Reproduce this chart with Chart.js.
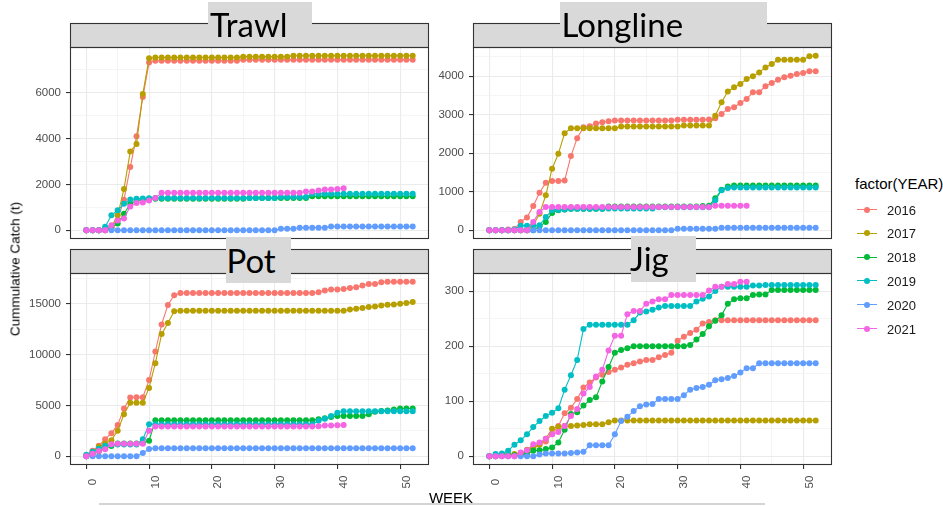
<!DOCTYPE html>
<html>
<head>
<meta charset="utf-8">
<title>Cummulative Catch by week</title>
<script src="https://cdn.jsdelivr.net/npm/chart.js@4.4.1/dist/chart.umd.min.js"></script>
<style>
  html, body { margin: 0; padding: 0; background: #ffffff; }
  body { position: relative; width: 943px; height: 506px; overflow: hidden;
         font-family: "Liberation Sans", Arial, sans-serif; }
  .panel { position: absolute; }
  .panel canvas { display: block; }
  .tagbg { position: absolute; background: #D9D9D9; }
  .tag { position: absolute; font-family: Lato, "Open Sans", sans-serif; font-size: 33px;
         line-height: normal; color: #000; white-space: nowrap; }
  .ytitle { position: absolute; left: 15px; top: 269px; font-size: 13.5px; color: #000;
            white-space: nowrap; transform: translate(-50%, -50%) rotate(-90deg); }
  .xtitle { position: absolute; left: 451px; top: 497px; font-size: 15px; color: #000;
            white-space: nowrap; transform: translate(-50%, -50%); }
  .legtitle { position: absolute; left: 855px; top: 183px; font-size: 15px; color: #000;
              white-space: nowrap; transform: translateY(-50%); }
  .keyline { position: absolute; left: 857px; width: 20px; height: 1px; }
  .keydot { position: absolute; left: 864px; width: 6px; height: 6px; border-radius: 50%; }
  .keytext { position: absolute; left: 887px; font-size: 13px; color: #1a1a1a;
             transform: translateY(-50%); white-space: nowrap; }
  .rule { position: absolute; left: 99px; top: 503px; width: 666px; height: 2px; background: #D4D4D4; }
</style>
</head>
<body>

<div class="panel" style="left:18px;top:20px"><canvas id="c-trawl" width="415" height="223"></canvas></div>
<div class="panel" style="left:421px;top:20px"><canvas id="c-longline" width="415" height="223"></canvas></div>
<div class="panel" style="left:18px;top:246px"><canvas id="c-pot" width="415" height="249"></canvas></div>
<div class="panel" style="left:421px;top:246px"><canvas id="c-jig" width="415" height="249"></canvas></div>

<div class="tagbg" style="left:208px;top:2px;width:104px;height:37px"></div>
<div class="tag" style="left:210px;top:4.4px">Trawl</div>
<div class="tagbg" style="left:560px;top:2px;width:207px;height:37px"></div>
<div class="tag" style="left:561.5px;top:4.1px">Longline</div>
<div class="tagbg" style="left:226px;top:237px;width:65px;height:46px"></div>
<div class="tag" style="left:226.5px;top:239.7px">Pot</div>
<div class="tagbg" style="left:631px;top:236px;width:65px;height:46px"></div>
<div class="tag" style="left:630px;top:238px">Jig</div>

<div class="ytitle">Cummulative Catch (t)</div>
<div class="xtitle">WEEK</div>
<div class="rule"></div>

<div class="legtitle">factor(YEAR)</div>
<div id="legend"></div>

<script>
// ---- weeks and years ----
const weeks = [0,1,2,3,4,5,6,7,8,9,10,11,12,13,14,15,16,17,18,19,20,21,22,23,24,25,26,
               27,28,29,30,31,32,33,34,35,36,37,38,39,40,41,42,43,44,45,46,47,48,49,50,51,52];
const weekGrid = [0,5,10,15,20,25,30,35,40,45,50];
const weekLabels = [0,10,20,30,40,50];
const years = ['2016','2017','2018','2019','2020','2021'];
const yearColors = ['#F8766D','#B79F00','#00BA38','#00BFC4','#619CFF','#F564E3'];

// ---- Trawl: cumulative catch (t) by week ----
const trawl2016 = [0,0,0,0,100,450,1330,2750,4090,5800,
  7300,7380,7380,7380,7380,7380,7380,7380,7380,7380,
  7380,7380,7380,7380,7380,7420,7420,7420,7420,7420,
  7420,7420,7420,7420,7420,7420,7420,7420,7420,7420,
  7420,7420,7420,7420,7420,7420,7420,7420,7420,7420,
  7420,7420,7420];
const trawl2017 = [0,0,0,0,150,650,1800,3425,3760,5930,
  7490,7520,7520,7520,7520,7520,7520,7520,7520,7520,
  7520,7520,7520,7520,7520,7560,7560,7560,7560,7560,
  7560,7560,7560,7600,7600,7600,7600,7600,7600,7600,
  7600,7600,7600,7600,7600,7600,7600,7600,7600,7600,
  7600,7600,7600];
const trawl2018 = [0,0,0,20,100,300,720,1150,1300,1330,
  1370,1370,1370,1370,1370,1370,1370,1370,1370,1370,
  1370,1370,1370,1370,1370,1370,1400,1400,1400,1400,
  1400,1400,1400,1400,1400,1400,1480,1480,1480,1480,
  1480,1480,1480,1480,1480,1480,1480,1480,1480,1480,
  1480,1480,1480];
const trawl2019 = [0,0,0,150,650,870,1150,1340,1375,1380,
  1390,1400,1400,1400,1400,1400,1400,1400,1400,1400,
  1400,1400,1400,1400,1400,1400,1400,1400,1400,1400,
  1400,1450,1450,1450,1450,1450,1590,1590,1590,1590,
  1590,1590,1590,1590,1590,1590,1590,1590,1590,1590,
  1590,1590,1590];
const trawl2020 = [0,0,0,0,0,0,0,0,0,0,
  0,0,0,0,0,0,0,0,0,0,
  0,0,0,0,0,0,0,0,0,0,
  0,70,70,70,115,115,115,115,115,160,
  160,160,160,160,160,160,160,160,160,160,
  160,160,160];
const trawl2021 = [0,0,0,0,220,430,510,1040,1190,1210,
  1300,1400,1635,1635,1635,1635,1635,1635,1635,1635,
  1635,1635,1635,1635,1635,1635,1635,1635,1635,1635,
  1635,1635,1635,1635,1635,1690,1690,1735,1780,1780,
  1800,1830];

// ---- Longline ----
const long2016 = [0,0,0,20,30,217,330,631,977,1235,
  1278,1278,1295,1926,2393,2678,2704,2772,2806,2832,
  2850,2850,2850,2850,2850,2850,2850,2850,2850,2850,
  2870,2870,2870,2870,2870,2877,2911,3022,3152,3195,
  3307,3411,3584,3584,3740,3826,3912,3973,4016,4059,
  4085,4128,4128];
const long2017 = [0,0,0,0,0,0,0,130,432,907,
  1598,1986,2522,2651,2651,2651,2651,2651,2651,2651,
  2651,2694,2694,2694,2694,2694,2694,2694,2694,2694,
  2694,2720,2720,2720,2720,2720,2977,3326,3602,3714,
  3800,3930,4000,4100,4230,4317,4430,4430,4430,4430,
  4430,4520,4533];
const long2018 = [0,0,0,0,0,0,0,0,100,217,
  450,520,540,560,560,560,560,560,560,620,
  620,620,620,620,620,620,620,620,620,620,
  620,620,620,620,630,640,830,1050,1140,1160,
  1160,1160,1160,1160,1160,1160,1160,1160,1160,1160,
  1160,1160,1160];
const long2019 = [0,0,0,0,20,120,120,125,130,345,
  518,535,540,560,560,560,560,560,560,565,
  565,565,565,565,565,565,565,600,600,600,
  600,600,600,600,600,600,780,1040,1100,1110,
  1110,1110,1110,1110,1110,1110,1110,1110,1110,1110,
  1110,1110,1110];
const long2020 = [0,0,0,0,0,0,0,0,0,0,
  0,0,0,0,0,0,0,0,0,0,
  0,0,0,0,0,0,0,0,0,0,
  40,40,40,40,40,40,40,65,65,65,
  65,65,65,65,65,65,65,65,65,65,
  65,65,65];
const long2021 = [0,0,0,0,0,0,0,217,476,605,
  605,605,605,605,605,605,605,605,605,605,
  605,605,605,605,605,605,605,605,605,605,
  605,605,605,605,605,605,635,635,635,635,
  635,635];

// ---- Pot ----
const pot2016 = [100,546,1030,1680,2270,3080,4700,5790,5800,5810,
  7490,10300,12960,14870,15830,16050,16050,16050,16050,16050,
  16050,16050,16050,16050,16050,16050,16050,16050,16050,16050,
  16050,16050,16050,16050,16050,16050,16050,16130,16290,16390,
  16390,16450,16550,16620,16780,16940,16940,17100,17160,17160,
  17160,17160,17160];
const pot2017 = [0,450,935,1260,1584,2500,4125,5260,5260,5260,
  6720,9150,12010,13110,14250,14300,14300,14300,14300,14300,
  14300,14300,14300,14300,14300,14300,14300,14300,14300,14300,
  14300,14300,14300,14300,14300,14300,14300,14300,14300,14300,
  14300,14300,14440,14500,14570,14670,14730,14830,14900,14930,
  15000,15060,15160];
const pot2018 = [0,200,500,800,1000,1266,1266,1266,1266,1300,
  1530,3535,3535,3535,3535,3535,3535,3535,3535,3535,
  3535,3535,3535,3535,3535,3535,3535,3535,3535,3535,
  3535,3535,3535,3535,3535,3535,3535,3630,3730,3860,
  3960,3960,3960,3960,3960,4120,4380,4440,4510,4600,
  4700,4700,4700];
const pot2019 = [160,450,730,1030,1130,1150,1150,1150,1150,1680,
  3146,3146,3146,3146,3146,3146,3146,3146,3146,3146,
  3146,3146,3146,3146,3146,3146,3146,3146,3146,3146,
  3146,3146,3146,3146,3146,3146,3146,3500,3700,3960,
  4290,4420,4420,4420,4420,4420,4420,4420,4420,4420,
  4420,4420,4420];
const pot2020 = [0,0,0,0,0,0,0,0,0,320,
  720,800,800,800,800,800,800,800,800,800,
  800,800,800,800,800,800,800,800,800,800,
  800,800,800,800,800,800,800,800,800,800,
  800,800,800,800,800,800,800,800,800,800,
  800,800,800];
const pot2021 = [0,250,520,680,1170,1230,1230,1230,1230,1230,
  2500,2920,2920,2920,2920,2920,2920,2920,2920,2920,
  2920,2920,2920,2920,2920,2920,2920,2920,2920,2920,
  2920,2920,2920,2920,2920,2920,2920,2950,3020,3020,
  3050,3080];

// ---- Jig ----
const jig2016 = [0,0,1,2,3,5,9,15,22,27,
  40,55,78,88,104,125,134,143,148,153,
  157,161,166,169,172,175,175,180,184,188,
  210,217,224,230,241,244,247,247,247,247,
  247,247,247,247,247,247,247,247,247,247,
  247,247,247];
const jig2017 = [0,1,2,3,4,6,12,16,21,32,
  50,53,55,55,56,57,58,58,58,62,
  65,65,65,65,65,65,65,65,65,65,
  65,65,65,65,65,65,65,65,65,65,
  65,65,65,65,65,65,65,65,65,65,
  65,65,65];
const jig2018 = [0,0,1,1,2,3,4,10,11,13,
  16,25,48,77,80,92,102,107,136,162,
  188,193,196,200,200,200,200,200,200,200,
  200,200,202,212,222,236,246,256,277,285,
  287,287,293,294,294,302,302,302,302,302,
  302,302,302];
const jig2019 = [0,4,5,10,21,29,40,53,64,73,
  79,87,121,147,175,231,239,239,239,239,
  239,239,239,247,261,263,266,270,273,273,
  273,273,273,281,286,290,300,308,308,308,
  308,308,310,310,311,311,311,311,311,311,
  311,311,311];
const jig2020 = [0,0,0,0,0,0,0,0,3,5,
  5,5,5,6,7,8,20,20,20,20,
  40,64,72,82,91,94,95,104,104,104,
  104,111,121,124,126,130,138,140,142,146,
  152,160,160,169,169,169,169,169,169,169,
  169,169,169];
const jig2021 = [0,0,0,0,0,7,11,22,25,32,
  40,44,55,73,86,114,126,145,157,192,
  219,219,258,264,264,277,281,285,285,293,
  293,293,293,293,293,301,308,308,313,313,
  317,317];

// ---- y-axis breaks (labelled) and minor breaks per gear ----
const trawlTicks = [0,2000,4000,6000];
const trawlMinor = [1000,3000,5000,7000];
const longTicks = [0,1000,2000,3000,4000];
const longMinor = [500,1500,2500,3500,4500];
const potTicks = [0,5000,10000,15000];
const potMinor = [2500,7500,12500,17500];
const jigTicks = [0,100,200,300];
const jigMinor = [50,150,250];

const STRIP_H = 24;

// Panel frame, strip and (bottom row) rotated week labels
const facetFrame = {
  id: 'facetFrame',
  beforeDraw(chart) {
    const { ctx, chartArea: a } = chart;
    ctx.save();
    ctx.fillStyle = '#D9D9D9';
    ctx.fillRect(a.left, a.top - STRIP_H, a.right - a.left, STRIP_H);
    ctx.restore();
  },
  afterDraw(chart, args, opts) {
    const { ctx, chartArea: a } = chart;
    ctx.save();
    ctx.strokeStyle = '#333333';
    ctx.lineWidth = 1.1;
    ctx.strokeRect(a.left + 0.5, a.top - STRIP_H + 0.5, a.right - a.left - 1, STRIP_H);
    ctx.strokeRect(a.left + 0.5, a.top + 0.5, a.right - a.left - 1, a.bottom - a.top - 1);
    if (opts.weekLabels) {
      const xs = chart.scales.x;
      ctx.fillStyle = '#4D4D4D';
      ctx.font = '11.5px "Liberation Sans", Arial, sans-serif';
      ctx.textAlign = 'center';
      ctx.textBaseline = 'top';
      weekLabels.forEach(v => {
        ctx.save();
        ctx.translate(xs.getPixelForValue(v) + 0.5, a.bottom + 17);
        ctx.rotate(-Math.PI / 2);
        ctx.fillText(String(v), 0, 0);
        ctx.restore();
      });
    }
    ctx.restore();
  }
};

function buildPanel(canvasId, series, majorTicks, minorTicks, bottomRow) {
  const top = Math.max(...series.flat());
  const yPad = 0.05 * top;
  const xSpan = weeks[weeks.length - 1] - weeks[0];
  const xPad = 0.05 * xSpan;
  const yGrid = majorTicks.concat(minorTicks).sort((a, b) => a - b);
  const majorY = v => majorTicks.includes(v);
  const majorX = v => weekLabels.includes(v);

  return new Chart(document.getElementById(canvasId), {
    type: 'line',
    data: {
      datasets: series.map((vals, i) => ({
        label: years[i],
        data: vals.map((v, k) => ({ x: weeks[k], y: v })),
        borderColor: yearColors[i],
        backgroundColor: yearColors[i],
        pointBackgroundColor: yearColors[i],
        pointBorderWidth: 0,
        pointRadius: 3,
        borderWidth: 1.1,
        tension: 0,
        fill: false,
        order: series.length - 1 - i
      }))
    },
    options: {
      responsive: false,
      animation: false,
      events: [],
      layout: { padding: { top: STRIP_H + 3, right: 3, bottom: bottomRow ? 0 : 3, left: 0 } },
      plugins: {
        legend: { display: false },
        tooltip: { enabled: false },
        facetFrame: { weekLabels: bottomRow }
      },
      scales: {
        x: {
          type: 'linear',
          min: weeks[0] - xPad,
          max: weeks[weeks.length - 1] + xPad,
          afterBuildTicks: s => { s.ticks = weekGrid.map(v => ({ value: v })); },
          afterFit: s => { s.height = bottomRow ? 30 : 0; s.paddingLeft = 0; s.paddingRight = 0; },
          ticks: { display: false },
          border: { display: false },
          grid: {
            color: c => (c.tick && majorX(c.tick.value)) ? '#EBEBEB' : '#F2F2F2',
            lineWidth: c => (c.tick && majorX(c.tick.value)) ? 1.1 : 0.8,
            drawTicks: bottomRow,
            tickLength: 4,
            tickWidth: 1.1,
            tickColor: c => (c.tick && majorX(c.tick.value)) ? '#333333' : 'rgba(0,0,0,0)'
          }
        },
        y: {
          type: 'linear',
          min: -yPad,
          max: top + yPad,
          afterBuildTicks: s => { s.ticks = yGrid.map(v => ({ value: v })); },
          afterFit: s => { s.width = 52; s.paddingTop = 0; s.paddingBottom = 0; },
          border: { display: false },
          ticks: {
            autoSkip: false,
            padding: 5,
            color: '#4D4D4D',
            font: { family: '"Liberation Sans", Arial, sans-serif', size: 11.5 },
            callback: v => majorY(v) ? String(v) : ''
          },
          grid: {
            color: c => (c.tick && majorY(c.tick.value)) ? '#EBEBEB' : '#F2F2F2',
            lineWidth: c => (c.tick && majorY(c.tick.value)) ? 1.1 : 0.8,
            tickLength: 4,
            tickWidth: 1.1,
            tickColor: c => (c.tick && majorY(c.tick.value)) ? '#333333' : 'rgba(0,0,0,0)'
          }
        }
      }
    },
    plugins: [facetFrame]
  });
}

buildPanel('c-trawl', [trawl2016, trawl2017, trawl2018, trawl2019, trawl2020, trawl2021], trawlTicks, trawlMinor, false);
buildPanel('c-longline', [long2016, long2017, long2018, long2019, long2020, long2021], longTicks, longMinor, false);
buildPanel('c-pot', [pot2016, pot2017, pot2018, pot2019, pot2020, pot2021], potTicks, potMinor, true);
buildPanel('c-jig', [jig2016, jig2017, jig2018, jig2019, jig2020, jig2021], jigTicks, jigMinor, true);

// legend keys for factor(YEAR)
const legend = document.getElementById('legend');
years.forEach((y, i) => {
  const cy = 209.5 + i * 23.8;
  legend.insertAdjacentHTML('beforeend',
    `<div class="keyline" style="top:${cy - 0.5}px;background:${yearColors[i]}"></div>` +
    `<div class="keydot" style="top:${cy - 3}px;background:${yearColors[i]}"></div>` +
    `<div class="keytext" style="top:${cy}px">${y}</div>`);
});
</script>
</body>
</html>
